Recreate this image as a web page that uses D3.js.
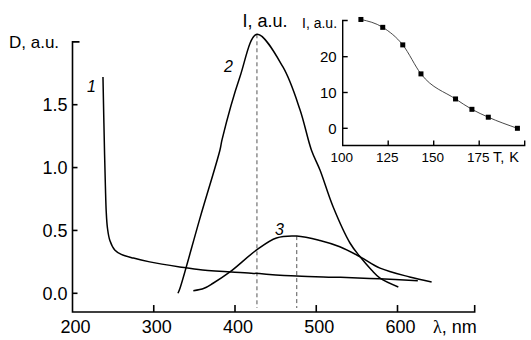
<!DOCTYPE html>
<html>
<head>
<meta charset="utf-8">
<script src="https://cdn.jsdelivr.net/npm/d3@7"></script>
<style>
  body { margin: 0; background: #fff; }
  svg text { font-family: "Liberation Sans", Arial, sans-serif; fill: #000; }
</style>
</head>
<body>
<svg id="chart" width="531" height="340"></svg>
<script>
// main panel: absorption (1) and luminescence spectra (2, 3)
var curve1 = [
  [237.5, 1.72], [238.5, 1.4], [239.5, 1.1], [240.5, 0.85], [241.5, 0.65], [243, 0.52],
  [246, 0.42], [252, 0.345], [260, 0.31], [275, 0.28], [295, 0.25], [332, 0.21],
  [360, 0.185], [420, 0.16], [476, 0.137], [530, 0.127], [578, 0.115], [625, 0.1]
];
var curve2 = [
  [329.8, 0.0], [332.3, 0.04], [357, 0.6], [381.5, 1.14], [384, 1.22], [406, 1.72],
  [427, 2.06], [459, 1.8], [480, 1.46], [494, 1.14], [504.6, 0.98], [520.6, 0.69],
  [541.5, 0.4], [554, 0.29], [568, 0.185], [578.5, 0.12], [601, 0.05]
];
var curve3 = [
  [348.7, 0.02], [362, 0.04], [373, 0.08], [393.8, 0.17], [426.7, 0.345], [451, 0.44],
  [476, 0.455], [504.6, 0.42], [529, 0.37], [554, 0.29], [578.5, 0.2], [615, 0.13], [642, 0.09]
];
var peaks = [[427, 2.06], [476, 0.455]];
var xTicks = [200, 300, 400, 500, 600];
var yTicks = [0.0, 0.5, 1.0, 1.5];

// inset: intensity vs temperature
var insetT = [110, 122, 133, 143, 162, 171, 180, 196];
var insetI = [30.4, 28.2, 23.3, 15.2, 8.2, 5.3, 3.1, 0.0];
var insetXTicks = [100, 125, 150, 175];
var insetYTicks = [0, 10, 20];

var svg = d3.select("#chart");

var x = d3.scaleLinear().domain([200, 600]).range([72.5, 397.5]);
var y = d3.scaleLinear().domain([0, 1.5]).range([293.3, 104.7]);
var xEnd = 695, yBottom = -0.149, yTop = 2.0;

var axisG = svg.append("g").attr("stroke", "#000").attr("stroke-width", 1.6).attr("fill", "none");

// y axis with cap
axisG.append("path")
  .attr("d", "M" + (x(200) + 7) + "," + y(yTop) + "H" + x(200) + "V" + y(yBottom) + "H" + x(xEnd) + "v-7");

// ticks (inward)
xTicks.forEach(function(t) {
  if (t > 200) axisG.append("line").attr("x1", x(t)).attr("x2", x(t)).attr("y1", y(yBottom)).attr("y2", y(yBottom) - 7);
  svg.append("text").attr("x", x(t) + 3).attr("y", 333).attr("text-anchor", "middle")
    .style("font-size", "18px").text(t);
});
yTicks.forEach(function(t) {
  axisG.append("line").attr("x1", x(200)).attr("x2", x(200) + 5).attr("y1", y(t)).attr("y2", y(t));
  svg.append("text").attr("x", x(200) - 5).attr("y", y(t) + 6.5).attr("text-anchor", "end")
    .style("font-size", "18px").text(d3.format(".1f")(t));
});

svg.append("text").attr("x", 9).attr("y", 48).style("font-size", "17px").text("D, a.u.");
var lam = svg.append("text").attr("x", 433).attr("y", 333).style("font-size", "18px");
lam.append("tspan").style("font-family", "'Liberation Serif', serif").text("λ");
lam.append("tspan").text(", nm");
svg.append("text").attr("x", 265).attr("y", 27).attr("text-anchor", "middle")
  .style("font-size", "18px").text("I, a.u.");

// dashed peak markers
peaks.forEach(function(p) {
  svg.append("line").attr("x1", x(p[0])).attr("x2", x(p[0]))
    .attr("y1", y(p[1])).attr("y2", 308)
    .attr("stroke", "#555").attr("stroke-width", 1).attr("stroke-dasharray", "4,3");
});

var line = d3.line().x(function(d) { return x(d[0]); }).y(function(d) { return y(d[1]); })
  .curve(d3.curveCatmullRom.alpha(0.5));

[curve1, curve2, curve3].forEach(function(c) {
  svg.append("path").datum(c).attr("d", line)
    .attr("fill", "none").attr("stroke", "#000").attr("stroke-width", 1.5);
});

// curve numbers
var labels = [["1", 87, 92], ["2", 224, 72], ["3", 275, 235]];
labels.forEach(function(l) {
  svg.append("text").attr("x", l[1]).attr("y", l[2])
    .style("font-size", "16px").style("font-style", "italic").text(l[0]);
});

// ---- inset ----
var ix = d3.scaleLinear().domain([100, 200]).range([342.7, 524.7]);
var iy = d3.scaleLinear().domain([0, 20]).range([128.3, 56.7]);
var iBottom = -4.8, iTop = 30.1;

var insetG = svg.append("g").attr("stroke", "#000").attr("stroke-width", 1.4).attr("fill", "none");
insetG.append("path")
  .attr("d", "M" + (ix(100) + 5) + "," + iy(iTop) + "H" + ix(100) + "V" + iy(iBottom) + "H" + ix(200) + "v-5");

insetXTicks.forEach(function(t) {
  if (t > 100) insetG.append("line").attr("x1", ix(t)).attr("x2", ix(t)).attr("y1", iy(iBottom)).attr("y2", iy(iBottom) - 5);
  svg.append("text").attr("x", ix(t) - 1).attr("y", 162).attr("text-anchor", "middle")
    .style("font-size", "13.5px").text(t);
});
insetYTicks.forEach(function(t) {
  insetG.append("line").attr("x1", ix(100)).attr("x2", ix(100) + 5).attr("y1", iy(t)).attr("y2", iy(t));
  svg.append("text").attr("x", ix(100) - 6).attr("y", iy(t) + 5.5).attr("text-anchor", "end")
    .style("font-size", "15px").text(t);
});
svg.append("text").attr("x", 302).attr("y", 28).style("font-size", "14px").text("I, a.u.");
svg.append("text").attr("x", 493).attr("y", 162).style("font-size", "14.5px")
  .style("word-spacing", "1px").text("T, K");

var insetData = insetT.map(function(t, i) { return [t, insetI[i]]; });
var iline = d3.line().x(function(d) { return ix(d[0]); }).y(function(d) { return iy(d[1]); })
  .curve(d3.curveMonotoneX);
svg.append("path").datum(insetData).attr("d", iline)
  .attr("fill", "none").attr("stroke", "#333").attr("stroke-width", 0.9);
svg.selectAll("rect.pt").data(insetData).enter().append("rect")
  .attr("class", "pt")
  .attr("x", function(d) { return ix(d[0]) - 2.5; })
  .attr("y", function(d) { return iy(d[1]) - 2.5; })
  .attr("width", 5).attr("height", 5).attr("fill", "#000");
</script>
</body>
</html>
